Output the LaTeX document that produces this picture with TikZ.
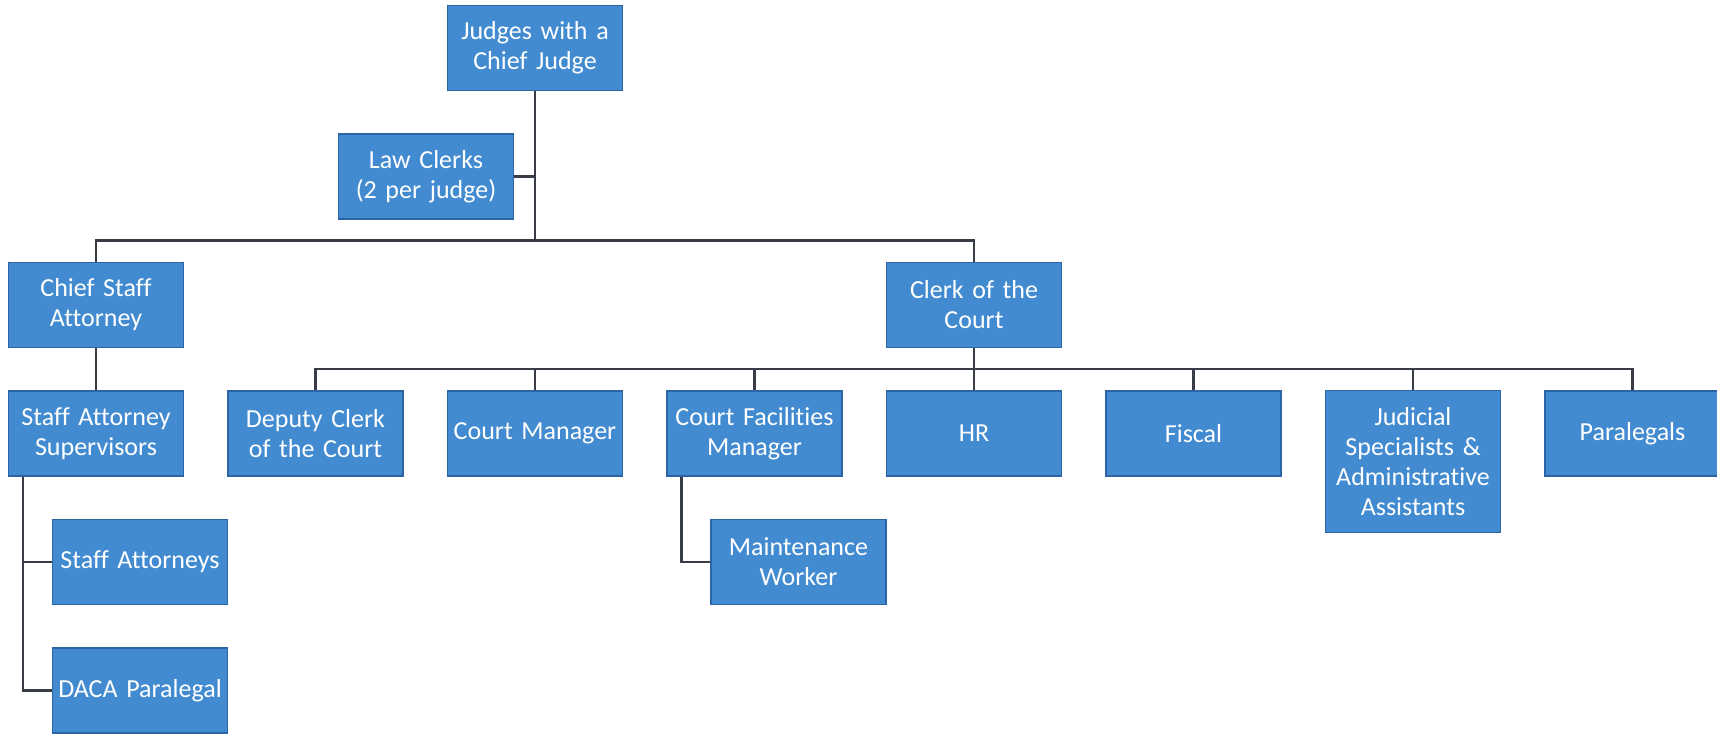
\documentclass[tikz,border=0pt]{standalone}
\usepackage{fontspec}
\setmainfont{Carlito}[Ligatures=CommonOff]
\usetikzlibrary{positioning, calc}
\definecolor{boxblue}{RGB}{66,139,209}
\definecolor{boxedge}{RGB}{45,100,165}
\definecolor{linegray}{RGB}{55,60,70}
\begin{document}
\begin{tikzpicture}
[
    node distance=2.57cm and 4.39cm, on grid,
    blue_box/.style={rectangle, draw=boxedge, fill=boxblue, line width=0.8pt, text=white, minimum height=1.7cm, minimum width=3.5cm, text width=3.3cm, align=center, inner sep=1mm, font=\fontsize{14.8}{17}\selectfont},
    link_line/.style={line width=0.5mm, color=linegray},
]
    \useasboundingbox (0,0) rectangle (34.34,-14.7);
    \node[blue_box] (csa) at (1.92,-6.1) {Chief Staff\\Attorney} ;
    \node[blue_box] (sas) [below = of csa] {Staff Attorney\\Supervisors} ;
    \node[blue_box] (deputy) [right = of sas] {Deputy Clerk\\of the Court} ;
    \node[blue_box] (manager) [right = of deputy] {Court Manager} ;
    \node[blue_box] (facilities) [right = of manager] {Court Facilities\\Manager} ;
    \node[blue_box] (hr) [right = of facilities] {HR} ;
    \node[blue_box] (fiscal) [right = of hr] {Fiscal} ;
    \node[blue_box, minimum height=2.84cm] (judicial) [right = of fiscal, yshift=-0.56cm] {Judicial\\Specialists \&\\Administrative\\Assistants} ;
    \node[blue_box] (paralegals) [right = 8.78cm of fiscal] {Paralegals} ;
    \node[blue_box] (clerk) [above = of hr] {Clerk of the\\Court} ;
    \node[blue_box] (judges) [above = 7.71cm of manager] {Judges with a\\Chief Judge} ;
    \node[blue_box] (lawclerks) [below left = 2.57cm and 2.18cm of judges] {Law Clerks\\(2 per judge)} ;
    \node[blue_box] (staffatt) [below right = 2.57cm and 0.88cm of sas] {Staff Attorneys} ;
    \node[blue_box] (daca) [below = of staffatt] {DACA Paralegal} ;
    \node[blue_box] (maint) [below right = 2.57cm and 0.88cm of facilities] {Maintenance\\Worker} ;
    \coordinate (bus1) at ($(lawclerks.south)!.5!(csa.north -| lawclerks)$) ;
    \coordinate (bus2) at ($(clerk.south)!.5!(hr.north)$) ;
    \draw[link_line] (judges.south) -- (bus1 -| judges.south) ;
    \draw[link_line] (lawclerks.east) -- (lawclerks.east -| judges.south) ;
    \draw[link_line] (csa.north) |- (bus1 -| judges.south) -| (clerk.north) ;
    \draw[link_line] (csa) -- (sas) ;
    \draw[link_line] (clerk) -- (hr) ;
    \draw[link_line] (deputy.north) |- (bus2) -| (paralegals.north) ;
    \foreach \n in {manager, facilities, fiscal, judicial}
        \draw[link_line] (\n.north) -- (\n.north |- bus2) ;
    \draw[link_line] ([xshift=3mm]sas.south west) |- (staffatt.west) ;
    \draw[link_line] ([xshift=3mm]sas.south west) |- (daca.west) ;
    \draw[link_line] ([xshift=3mm]facilities.south west) |- (maint.west) ;
\end{tikzpicture}
\end{document}
